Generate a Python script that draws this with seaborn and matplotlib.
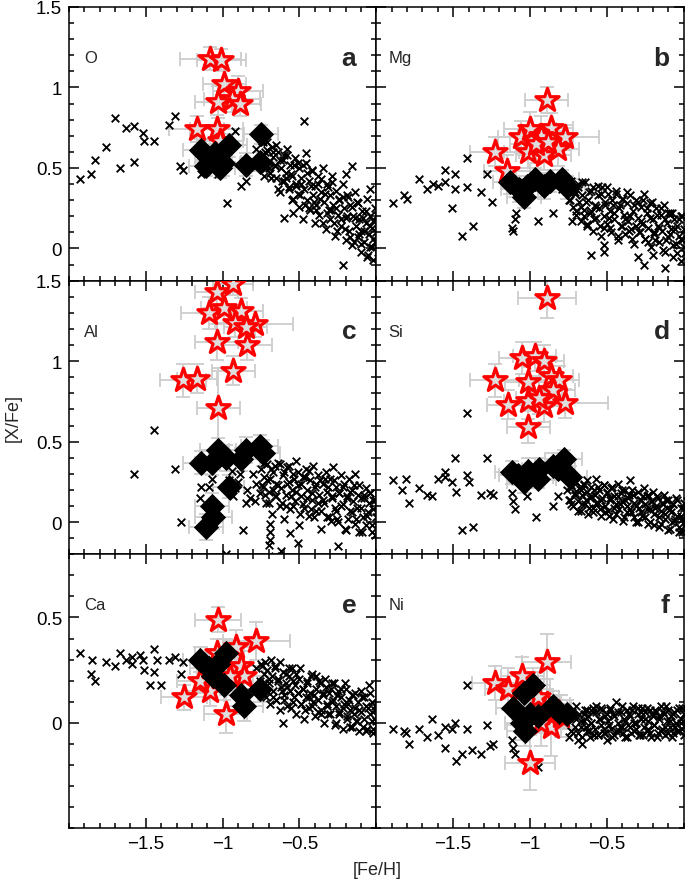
import numpy as np
import matplotlib
matplotlib.use("Agg")
import matplotlib.pyplot as plt
import seaborn as sns
from matplotlib.ticker import MultipleLocator, FixedLocator, FuncFormatter

# -------------------- data --------------------
elements = ["O", "Mg", "Al", "Si", "Ca", "Ni"]
panel_letters = ["a", "b", "c", "d", "e", "f"]

# red open stars (this work) + their errors
O_star_x = [-1.08, -1.01, -0.99, -0.90, -0.94, -1.03, -0.89, -1.17, -1.04, -1.02]
O_star_y = [1.18, 1.17, 1.02, 0.98, 0.93, 0.91, 0.90, 0.74, 0.74, 0.67]
O_star_xerr = [0.20, 0.16, 0.14, 0.16, 0.18, 0.15, 0.14, 0.18, 0.17, 0.15]
O_star_yerr = [0.07, 0.07, 0.09, 0.09, 0.08, 0.10, 0.08, 0.08, 0.09, 0.08]

Mg_star_x = [-0.89, -1.23, -1.06, -1.00, -0.86, -0.77, -0.93, -1.01, -0.91, -0.82, -1.15, -0.96, -0.88]
Mg_star_y = [0.92, 0.60, 0.69, 0.74, 0.75, 0.69, 0.70, 0.60, 0.58, 0.62, 0.48, 0.65, 0.66]
Mg_star_xerr = [0.14, 0.16, 0.15, 0.17, 0.14, 0.22, 0.15, 0.16, 0.18, 0.14, 0.15, 0.17, 0.16]
Mg_star_yerr = [0.08, 0.09, 0.10, 0.11, 0.09, 0.08, 0.12, 0.10, 0.09, 0.11, 0.10, 0.12, 0.09]

Al_star_x = [-1.04, -0.93, -1.09, -0.99, -0.88, -0.92, -0.79, -0.85, -0.84, -1.04, -0.93, -1.26, -1.17, -1.03]
Al_star_y = [1.43, 1.48, 1.30, 1.33, 1.31, 1.24, 1.23, 1.21, 1.10, 1.12, 0.94, 0.88, 0.89, 0.71]
Al_star_xerr = [0.14, 0.13, 0.18, 0.15, 0.14, 0.13, 0.25, 0.14, 0.16, 0.14, 0.14, 0.15, 0.13, 0.14]
Al_star_yerr = [0.08, 0.07, 0.10, 0.09, 0.08, 0.09, 0.08, 0.10, 0.09, 0.11, 0.09, 0.10, 0.09, 0.25]

Si_star_x = [-0.89, -1.05, -0.97, -0.91, -1.23, -1.01, -0.86, -0.81, -0.85, -1.14, -1.01, -0.91, -0.77, -1.01, -0.94]
Si_star_y = [1.39, 1.02, 1.03, 1.00, 0.88, 0.87, 0.91, 0.88, 0.82, 0.73, 0.75, 0.72, 0.74, 0.59, 0.77]
Si_star_xerr = [0.19, 0.15, 0.14, 0.13, 0.16, 0.15, 0.14, 0.13, 0.14, 0.14, 0.16, 0.14, 0.28, 0.14, 0.15]
Si_star_yerr = [0.12, 0.10, 0.09, 0.10, 0.10, 0.11, 0.10, 0.09, 0.10, 0.09, 0.11, 0.10, 0.09, 0.10, 0.10]

Ca_star_x = [-1.03, -0.78, -1.25, -1.08, -0.98, -1.04, -0.91, -1.15, -0.88, -0.86, -0.95]
Ca_star_y = [0.49, 0.39, 0.12, 0.15, 0.04, 0.33, 0.36, 0.20, 0.27, 0.22, 0.22]
Ca_star_xerr = [0.15, 0.22, 0.15, 0.16, 0.14, 0.14, 0.13, 0.15, 0.14, 0.16, 0.15]
Ca_star_yerr = [0.06, 0.09, 0.06, 0.07, 0.09, 0.07, 0.08, 0.06, 0.07, 0.07, 0.06]

Ni_star_x = [-0.89, -1.23, -1.05, -1.14, -1.00, -0.89, -0.86, -0.93, -0.80, -0.95]
Ni_star_y = [0.29, 0.19, 0.22, 0.16, -0.19, 0.09, -0.02, 0.00, 0.03, 0.12]
Ni_star_xerr = [0.16, 0.15, 0.14, 0.15, 0.16, 0.15, 0.14, 0.16, 0.15, 0.14]
Ni_star_yerr = [0.13, 0.08, 0.09, 0.10, 0.13, 0.12, 0.14, 0.11, 0.10, 0.12]

# black filled diamonds + their errors
O_dia_x = [-1.14, -1.11, -1.06, -1.05, -1.00, -0.96, -1.02, -0.85, -0.76, -0.75]
O_dia_y = [0.61, 0.51, 0.55, 0.59, 0.53, 0.64, 0.50, 0.52, 0.54, 0.71]
O_dia_xerr = [0.12, 0.11, 0.12, 0.10, 0.11, 0.12, 0.10, 0.11, 0.12, 0.11]
O_dia_yerr = [0.07, 0.06, 0.07, 0.06, 0.08, 0.07, 0.06, 0.07, 0.06, 0.06]

Mg_dia_x = [-1.13, -1.07, -1.04, -1.02, -0.97, -0.91, -0.87, -0.79, -0.76]
Mg_dia_y = [0.41, 0.37, 0.32, 0.39, 0.43, 0.39, 0.42, 0.43, 0.38]
Mg_dia_xerr = [0.11, 0.12, 0.11, 0.10, 0.12, 0.11, 0.12, 0.11, 0.12]
Mg_dia_yerr = [0.07, 0.08, 0.07, 0.06, 0.07, 0.08, 0.07, 0.06, 0.07]

Al_dia_x = [-1.14, -1.07, -1.03, -0.98, -0.88, -0.85, -0.76, -0.74, -0.96, -1.07, -1.06, -1.11]
Al_dia_y = [0.37, 0.37, 0.45, 0.40, 0.39, 0.45, 0.47, 0.43, 0.22, 0.10, 0.03, -0.03]
Al_dia_xerr = [0.12, 0.11, 0.12, 0.11, 0.12, 0.11, 0.12, 0.11, 0.10, 0.11, 0.12, 0.11]
Al_dia_yerr = [0.07, 0.08, 0.07, 0.08, 0.07, 0.08, 0.07, 0.08, 0.07, 0.08, 0.07, 0.08]

Si_dia_x = [-1.12, -1.08, -1.04, -1.01, -0.95, -0.94, -0.85, -0.82, -0.78, -0.74]
Si_dia_y = [0.31, 0.29, 0.25, 0.32, 0.27, 0.33, 0.35, 0.33, 0.39, 0.28]
Si_dia_xerr = [0.11, 0.12, 0.11, 0.10, 0.12, 0.11, 0.12, 0.11, 0.12, 0.11]
Si_dia_yerr = [0.07, 0.06, 0.07, 0.08, 0.06, 0.07, 0.08, 0.07, 0.06, 0.07]

Ca_dia_x = [-1.15, -1.09, -1.03, -0.98, -1.06, -0.99, -0.88, -0.86, -0.76]
Ca_dia_y = [0.30, 0.26, 0.28, 0.33, 0.22, 0.18, 0.13, 0.08, 0.16]
Ca_dia_xerr = [0.11, 0.12, 0.11, 0.12, 0.11, 0.12, 0.11, 0.12, 0.11]
Ca_dia_yerr = [0.06, 0.07, 0.06, 0.07, 0.06, 0.07, 0.06, 0.07, 0.06]

Ni_dia_x = [-0.98, -1.04, -1.11, -1.00, -1.05, -1.03, -0.95, -0.85, -0.81, -0.76]
Ni_dia_y = [0.18, 0.14, 0.07, 0.04, 0.00, -0.04, 0.03, 0.08, 0.05, 0.04]
Ni_dia_xerr = [0.11, 0.12, 0.11, 0.12, 0.11, 0.12, 0.11, 0.12, 0.11, 0.12]
Ni_dia_yerr = [0.08, 0.07, 0.08, 0.07, 0.08, 0.07, 0.08, 0.07, 0.08, 0.07]

# field stars (black x), read point by point
O_field = [
    (-1.93, 0.43), (-1.86, 0.46), (-1.83, 0.55), (-1.76, 0.63), (-1.70, 0.81), (-1.67, 0.50), (-1.63, 0.75),
    (-1.58, 0.76), (-1.58, 0.54), (-1.52, 0.72), (-1.51, 0.67), (-1.45, 0.67), (-1.35, 0.77), (-1.31, 0.82),
    (-1.28, 0.51), (-1.26, 0.49), (-1.14, 0.46), (-1.03, 0.46), (-0.97, 0.28), (-0.92, 0.73), (-0.88, 0.39),
    (-0.85, 0.42), (-0.47, 0.79), (-0.46, 0.59), (-0.22, -0.10), (-0.16, 0.51), (-0.20, 0.46), (-0.04, 0.37),
    (-0.78, 0.62), (-0.76, 0.55), (-0.74, 0.66), (-0.73, 0.58), (-0.72, 0.50), (-0.71, 0.61), (-0.70, 0.54),
    (-0.69, 0.47), (-0.68, 0.63), (-0.67, 0.57), (-0.66, 0.52), (-0.65, 0.44), (-0.64, 0.60), (-0.63, 0.35),
    (-0.62, 0.50), (-0.61, 0.55), (-0.60, 0.19), (-0.60, 0.42), (-0.59, 0.47), (-0.58, 0.58), (-0.57, 0.38),
    (-0.56, 0.52), (-0.55, 0.30), (-0.55, 0.45), (-0.54, 0.22), (-0.53, 0.56), (-0.52, 0.40), (-0.51, 0.34),
    (-0.50, 0.50), (-0.50, 0.26), (-0.49, 0.44), (-0.48, 0.18), (-0.47, 0.37), (-0.46, 0.53), (-0.45, 0.30),
    (-0.44, 0.42), (-0.43, 0.24), (-0.42, 0.48), (-0.41, 0.33), (-0.40, 0.16), (-0.40, 0.39), (-0.39, 0.27),
    (-0.38, 0.45), (-0.37, 0.21), (-0.36, 0.35), (-0.35, 0.50), (-0.34, 0.29), (-0.33, 0.12), (-0.32, 0.40),
    (-0.31, 0.24), (-0.30, 0.33), (-0.30, 0.18), (-0.29, 0.45), (-0.28, 0.27), (-0.27, 0.08), (-0.26, 0.36),
    (-0.25, 0.21), (-0.24, 0.30), (-0.23, 0.14), (-0.22, 0.40), (-0.21, 0.25), (-0.20, 0.05), (-0.20, 0.19),
    (-0.19, 0.33), (-0.18, 0.11), (-0.17, 0.27), (-0.16, 0.02), (-0.15, 0.20), (-0.14, 0.35), (-0.13, 0.14),
    (-0.12, 0.07), (-0.12, 0.28), (-0.11, 0.18), (-0.10, -0.02), (-0.10, 0.11), (-0.09, 0.23), (-0.08, 0.04),
    (-0.07, 0.16), (-0.06, -0.05), (-0.06, 0.31), (-0.05, 0.09), (-0.04, 0.20), (-0.04, 0.01), (-0.03, 0.13),
    (-0.02, -0.07), (-0.02, 0.06), (-0.01, 0.25), (0.00, 0.10), (0.01, -0.02), (0.02, 0.15),
]
Mg_field = [
    (-1.89, 0.28), (-1.82, 0.33), (-1.80, 0.31), (-1.72, 0.43), (-1.67, 0.37), (-1.63, 0.40), (-1.60, 0.39),
    (-1.55, 0.49), (-1.55, 0.41), (-1.49, 0.46), (-1.49, 0.37), (-1.51, 0.25), (-1.44, 0.08), (-1.41, 0.56),
    (-1.41, 0.38), (-1.37, 0.14), (-1.32, 0.35), (-1.28, 0.46), (-1.25, 0.29), (-1.12, 0.13), (-1.11, 0.11),
    (-1.10, 0.18), (-1.09, 0.22), (-0.95, 0.17), (-0.85, 0.22), (-0.60, -0.04), (-0.52, 0.02), (-0.52, -0.02),
    (-0.30, -0.05), (-0.26, -0.10), (-0.20, -0.04), (-0.12, -0.12),
    (-0.79, 0.37), (-0.77, 0.40), (-0.76, 0.36), (-0.74, 0.30), (-0.73, 0.40), (-0.72, 0.26), (-0.71, 0.34),
    (-0.70, 0.21), (-0.69, 0.38), (-0.68, 0.29), (-0.67, 0.17), (-0.66, 0.33), (-0.65, 0.24), (-0.64, 0.41),
    (-0.63, 0.14), (-0.62, 0.30), (-0.61, 0.22), (-0.60, 0.36), (-0.59, 0.11), (-0.58, 0.27), (-0.57, 0.19),
    (-0.56, 0.33), (-0.55, 0.25), (-0.54, 0.08), (-0.53, 0.38), (-0.52, 0.20), (-0.51, 0.29), (-0.50, 0.15),
    (-0.49, 0.34), (-0.48, 0.23), (-0.47, 0.10), (-0.46, 0.27), (-0.45, 0.18), (-0.44, 0.36), (-0.43, 0.05),
    (-0.42, 0.25), (-0.41, 0.14), (-0.40, 0.31), (-0.39, 0.21), (-0.38, 0.09), (-0.37, 0.28), (-0.36, 0.17),
    (-0.35, 0.33), (-0.34, 0.12), (-0.33, 0.23), (-0.32, 0.03), (-0.31, 0.30), (-0.30, 0.19), (-0.29, 0.10),
    (-0.28, 0.26), (-0.27, 0.15), (-0.26, 0.34), (-0.25, 0.06), (-0.24, 0.22), (-0.23, 0.13), (-0.22, 0.28),
    (-0.21, 0.01), (-0.20, 0.18), (-0.19, 0.09), (-0.18, 0.25), (-0.17, 0.14), (-0.16, 0.04), (-0.15, 0.21),
    (-0.14, 0.11), (-0.13, 0.27), (-0.12, -0.02), (-0.11, 0.16), (-0.10, 0.07), (-0.09, 0.22), (-0.08, 0.12),
    (-0.07, -0.05), (-0.06, 0.18), (-0.05, 0.03), (-0.04, 0.14), (-0.03, 0.08), (-0.02, -0.08), (-0.02, 0.20),
    (-0.01, 0.05), (0.00, 0.12), (0.01, -0.03), (0.02, 0.09), (0.03, 0.16),
]
Al_field = [
    (-1.58, 0.30), (-1.45, 0.57), (-1.31, 0.33), (-1.27, 0.00), (-1.15, 0.15), (-1.14, 0.22), (-1.07, 0.27),
    (-1.09, 0.22), (-0.98, -0.20), (-0.94, 0.32), (-0.93, 0.16), (-0.92, 0.21), (-0.89, 0.30), (-0.87, -0.05),
    (-0.85, 0.12), (-0.84, 0.20), (-0.82, 0.15), (-0.69, -0.01), (-0.69, -0.06), (-0.69, -0.11), (-0.62, -0.18),
    (-0.56, -0.07), (-0.51, -0.13), (-0.25, -0.15), (-0.96, 0.26), (-0.90, 0.25), (-0.80, 0.30), (-0.78, 0.24),
    (-0.76, 0.18), (-0.79, 0.13), (-0.66, -0.21), (-0.70, -0.14),
    (-0.75, 0.33), (-0.74, 0.22), (-0.73, 0.28), (-0.72, 0.12), (-0.71, 0.36), (-0.70, 0.19), (-0.69, 0.27),
    (-0.68, 0.05), (-0.67, 0.31), (-0.66, 0.16), (-0.65, 0.24), (-0.64, 0.37), (-0.63, 0.10), (-0.62, 0.21),
    (-0.61, 0.29), (-0.60, 0.02), (-0.59, 0.17), (-0.58, 0.34), (-0.57, 0.25), (-0.56, 0.08), (-0.55, 0.20),
    (-0.54, 0.30), (-0.53, 0.13), (-0.52, 0.38), (-0.51, 0.23), (-0.50, -0.02), (-0.49, 0.16), (-0.48, 0.28),
    (-0.47, 0.09), (-0.46, 0.33), (-0.45, 0.20), (-0.44, 0.04), (-0.43, 0.26), (-0.42, 0.14), (-0.41, 0.35),
    (-0.40, 0.22), (-0.39, 0.07), (-0.38, 0.29), (-0.37, 0.17), (-0.36, -0.04), (-0.35, 0.24), (-0.34, 0.12),
    (-0.33, 0.31), (-0.32, 0.19), (-0.31, 0.03), (-0.30, 0.27), (-0.29, 0.15), (-0.28, 0.34), (-0.27, 0.09),
    (-0.26, 0.22), (-0.25, 0.00), (-0.24, 0.18), (-0.23, 0.29), (-0.22, 0.11), (-0.21, 0.24), (-0.20, -0.05),
    (-0.19, 0.16), (-0.18, 0.27), (-0.17, 0.07), (-0.16, 0.20), (-0.15, 0.13), (-0.14, 0.30), (-0.13, 0.02),
    (-0.12, 0.17), (-0.11, 0.23), (-0.10, 0.09), (-0.09, -0.06), (-0.08, 0.15), (-0.07, 0.21), (-0.06, 0.04),
    (-0.05, 0.12), (-0.04, 0.18), (-0.03, -0.02), (-0.02, 0.08), (-0.01, 0.14), (0.00, 0.03), (0.01, 0.10),
    (0.02, -0.04), (0.02, 0.16), (0.03, 0.06),
]
Si_field = [
    (-1.89, 0.26), (-1.83, 0.20), (-1.81, 0.27), (-1.79, 0.12), (-1.72, 0.21), (-1.67, 0.17), (-1.64, 0.16),
    (-1.60, 0.27), (-1.55, 0.31), (-1.55, 0.28), (-1.51, 0.25), (-1.49, 0.40), (-1.48, 0.19), (-1.44, -0.05),
    (-1.41, 0.68), (-1.41, 0.29), (-1.40, 0.25), (-1.37, -0.03), (-1.32, 0.17), (-1.28, 0.40), (-1.26, 0.18),
    (-1.24, 0.17), (-1.12, 0.18), (-1.11, 0.13), (-1.10, 0.08), (-1.02, 0.16), (-0.96, 0.03), (-0.85, 0.10),
    (-0.82, 0.16),
    (-0.76, 0.20), (-0.74, 0.14), (-0.73, 0.23), (-0.72, 0.10), (-0.71, 0.18), (-0.70, 0.25), (-0.69, 0.13),
    (-0.68, 0.21), (-0.67, 0.07), (-0.66, 0.17), (-0.65, 0.24), (-0.64, 0.11), (-0.63, 0.19), (-0.62, 0.05),
    (-0.61, 0.15), (-0.60, 0.22), (-0.59, 0.09), (-0.58, 0.17), (-0.57, 0.27), (-0.56, 0.12), (-0.55, 0.20),
    (-0.54, 0.04), (-0.53, 0.15), (-0.52, 0.23), (-0.51, 0.10), (-0.50, 0.18), (-0.49, 0.07), (-0.48, 0.14),
    (-0.47, 0.21), (-0.46, 0.02), (-0.45, 0.16), (-0.44, 0.11), (-0.43, 0.24), (-0.42, 0.08), (-0.41, 0.18),
    (-0.40, 0.13), (-0.39, 0.03), (-0.38, 0.20), (-0.37, 0.10), (-0.36, 0.15), (-0.35, 0.26), (-0.34, 0.06),
    (-0.33, 0.17), (-0.32, 0.12), (-0.31, 0.00), (-0.30, 0.19), (-0.29, 0.09), (-0.28, 0.14), (-0.27, 0.04),
    (-0.26, 0.21), (-0.25, 0.11), (-0.24, 0.16), (-0.23, -0.01), (-0.22, 0.08), (-0.21, 0.13), (-0.20, 0.19),
    (-0.19, 0.05), (-0.18, 0.10), (-0.17, 0.15), (-0.16, -0.03), (-0.15, 0.07), (-0.14, 0.12), (-0.13, 0.17),
    (-0.12, 0.02), (-0.11, 0.09), (-0.10, 0.14), (-0.09, -0.04), (-0.08, 0.06), (-0.07, 0.11), (-0.06, 0.01),
    (-0.05, 0.15), (-0.04, 0.04), (-0.03, -0.06), (-0.02, 0.09), (-0.01, 0.02), (0.00, 0.12), (0.01, -0.02),
    (0.02, 0.06), (0.02, 0.13), (0.03, 0.00),
]
Ca_field = [
    (-1.93, 0.33), (-1.85, 0.30), (-1.86, 0.23), (-1.83, 0.20), (-1.76, 0.29), (-1.70, 0.27), (-1.67, 0.33),
    (-1.63, 0.30), (-1.59, 0.31), (-1.59, 0.28), (-1.54, 0.32), (-1.52, 0.30), (-1.51, 0.25), (-1.47, 0.18),
    (-1.45, 0.35), (-1.43, 0.30), (-1.45, 0.24), (-1.40, 0.18), (-1.35, 0.30), (-1.31, 0.31), (-1.26, 0.29),
    (-1.27, 0.23), (-0.61, 0.00),
    (-0.78, 0.26), (-0.76, 0.20), (-0.75, 0.28), (-0.74, 0.17), (-0.73, 0.23), (-0.72, 0.12), (-0.71, 0.25),
    (-0.70, 0.19), (-0.69, 0.09), (-0.68, 0.22), (-0.67, 0.15), (-0.66, 0.27), (-0.65, 0.11), (-0.64, 0.20),
    (-0.63, 0.06), (-0.62, 0.17), (-0.61, 0.24), (-0.60, 0.13), (-0.59, 0.19), (-0.58, 0.08), (-0.57, 0.22),
    (-0.56, 0.15), (-0.55, 0.26), (-0.54, 0.10), (-0.53, 0.18), (-0.52, 0.04), (-0.51, 0.14), (-0.50, 0.21),
    (-0.49, 0.09), (-0.48, 0.16), (-0.47, 0.02), (-0.46, 0.12), (-0.45, 0.19), (-0.44, 0.07), (-0.43, 0.14),
    (-0.42, 0.23), (-0.41, 0.10), (-0.40, 0.03), (-0.39, 0.16), (-0.38, 0.11), (-0.37, 0.20), (-0.36, 0.06),
    (-0.35, 0.13), (-0.34, 0.00), (-0.33, 0.17), (-0.32, 0.09), (-0.31, 0.14), (-0.30, 0.04), (-0.29, 0.19),
    (-0.28, 0.11), (-0.27, -0.01), (-0.26, 0.08), (-0.25, 0.15), (-0.24, 0.05), (-0.23, 0.12), (-0.22, -0.03),
    (-0.21, 0.09), (-0.20, 0.16), (-0.19, 0.03), (-0.18, 0.11), (-0.17, 0.06), (-0.16, -0.02), (-0.15, 0.13),
    (-0.14, 0.07), (-0.13, 0.01), (-0.12, 0.10), (-0.11, -0.04), (-0.10, 0.05), (-0.09, 0.12), (-0.08, 0.02),
    (-0.07, 0.08), (-0.06, -0.03), (-0.05, 0.18), (-0.04, 0.04), (-0.03, 0.10), (-0.02, -0.05), (-0.01, 0.06),
    (0.00, 0.01), (0.01, 0.09), (0.02, 0.03),
]
Ni_field = [
    (-1.89, -0.03), (-1.82, -0.04), (-1.81, -0.05), (-1.79, -0.10), (-1.72, -0.03), (-1.67, -0.07), (-1.64, 0.02),
    (-1.60, -0.06), (-1.55, -0.02), (-1.55, -0.12), (-1.51, -0.03), (-1.49, 0.00), (-1.48, -0.18), (-1.44, -0.15),
    (-1.41, 0.18), (-1.41, -0.03), (-1.38, -0.13), (-1.32, -0.15), (-1.28, -0.01), (-1.26, -0.11), (-1.24, -0.10),
    (-1.12, -0.08), (-1.11, -0.12), (-1.10, -0.15), (-0.95, -0.21),
    (-0.72, -0.05), (-0.70, 0.02), (-0.69, -0.08), (-0.68, 0.04), (-0.67, -0.02), (-0.66, -0.10), (-0.65, 0.01),
    (-0.64, 0.06), (-0.63, -0.04), (-0.62, 0.03), (-0.61, -0.07), (-0.60, 0.00), (-0.59, 0.05), (-0.58, -0.03),
    (-0.57, 0.08), (-0.56, -0.06), (-0.55, 0.02), (-0.54, -0.01), (-0.53, 0.06), (-0.52, -0.05), (-0.51, 0.03),
    (-0.50, -0.08), (-0.49, 0.01), (-0.48, 0.07), (-0.47, -0.03), (-0.46, 0.04), (-0.45, -0.06), (-0.44, 0.10),
    (-0.43, 0.00), (-0.42, -0.04), (-0.41, 0.05), (-0.40, -0.02), (-0.39, 0.02), (-0.38, -0.07), (-0.37, 0.06),
    (-0.36, -0.01), (-0.35, 0.03), (-0.34, -0.05), (-0.33, 0.08), (-0.32, 0.00), (-0.31, -0.03), (-0.30, 0.04),
    (-0.29, -0.06), (-0.28, 0.02), (-0.27, 0.07), (-0.26, -0.02), (-0.25, 0.05), (-0.24, -0.04), (-0.23, 0.01),
    (-0.22, 0.06), (-0.21, -0.07), (-0.20, 0.03), (-0.19, -0.01), (-0.18, 0.05), (-0.17, -0.05), (-0.16, 0.02),
    (-0.15, 0.08), (-0.14, -0.03), (-0.13, 0.04), (-0.12, -0.06), (-0.11, 0.01), (-0.10, 0.06), (-0.09, -0.02),
    (-0.08, 0.03), (-0.07, -0.05), (-0.06, 0.05), (-0.05, 0.00), (-0.04, -0.04), (-0.03, 0.07), (-0.02, 0.02),
    (-0.01, -0.03), (0.00, 0.04), (0.01, -0.01), (0.02, 0.05), (0.03, -0.02),
]

# second pass over the crowded metal-rich end: shared [Fe/H] column, one [X/Fe] column per element
dense_feh = [
    -0.745, -0.733, -0.724, -0.709, -0.698, -0.687, -0.671, -0.662, -0.651, -0.638, -0.626, -0.617,
    -0.603, -0.591, -0.582, -0.569, -0.557, -0.545, -0.536, -0.521, -0.512, -0.498, -0.487, -0.476,
    -0.463, -0.452, -0.441, -0.428, -0.417, -0.404, -0.393, -0.382, -0.369, -0.357, -0.346, -0.334,
    -0.322, -0.313, -0.298, -0.287, -0.276, -0.264, -0.253, -0.241, -0.229, -0.218, -0.206, -0.193,
    -0.184, -0.171, -0.158, -0.147, -0.136, -0.124, -0.113, -0.101, -0.089, -0.078, -0.066, -0.054,
    -0.043, -0.031, -0.019, -0.008, 0.004, 0.015,
]
O_dense = [
    0.67, 0.45, 0.60, 0.66, 0.50, 0.44, 0.60, 0.51, 0.64, 0.37, 0.55, 0.42,
    0.58, 0.44, 0.62, 0.37, 0.46, 0.31, 0.52, 0.39, 0.53, 0.33, 0.40, 0.52,
    0.27, 0.47, 0.25, 0.39, 0.49, 0.29, 0.24, 0.40, 0.31, 0.43, 0.16, 0.34,
    0.22, 0.38, 0.24, 0.41, 0.16, 0.25, 0.11, 0.31, 0.18, 0.32, 0.12, 0.20,
    0.32, 0.07, 0.26, 0.04, 0.19, 0.29, 0.09, 0.03, 0.19, 0.11, 0.23, -0.04,
    0.14, 0.01, 0.17, 0.04, 0.21, -0.04,
]
Mg_dense = [
    0.30, 0.42, 0.17, 0.35, 0.23, 0.40, 0.26, 0.41, 0.20, 0.29, 0.15, 0.35,
    0.23, 0.38, 0.18, 0.26, 0.39, 0.14, 0.34, 0.13, 0.27, 0.38, 0.19, 0.13,
    0.30, 0.22, 0.34, 0.08, 0.27, 0.14, 0.31, 0.18, 0.35, 0.11, 0.20, 0.06,
    0.27, 0.14, 0.29, 0.10, 0.17, 0.30, 0.06, 0.25, 0.04, 0.19, 0.29, 0.10,
    0.05, 0.21, 0.13, 0.25, -0.01, 0.18, 0.05, 0.22, 0.09, 0.22, 0.02, 0.12,
    -0.03, 0.18, 0.06, 0.20, 0.01, 0.09,
]
Al_dense = [
    0.23, 0.37, 0.17, 0.26, 0.12, 0.33, 0.20, 0.35, 0.16, 0.23, 0.36, 0.12,
    0.31, 0.10, 0.24, 0.35, 0.16, 0.10, 0.27, 0.19, 0.31, 0.05, 0.24, 0.11,
    0.28, 0.15, 0.32, 0.08, 0.18, 0.03, 0.24, 0.12, 0.26, 0.07, 0.14, 0.27,
    0.03, 0.22, 0.01, 0.16, 0.26, 0.07, 0.02, 0.18, 0.10, 0.22, -0.04, 0.15,
    0.02, 0.19, 0.06, 0.23, -0.01, 0.09, -0.06, 0.15, 0.03, 0.17, -0.02, 0.06,
    0.18, -0.06, 0.14, -0.08, 0.07, 0.18,
]
Si_dense = [
    0.14, 0.11, 0.22, 0.17, 0.25, 0.07, 0.20, 0.11, 0.23, 0.14, 0.26, 0.09,
    0.16, 0.06, 0.20, 0.12, 0.22, 0.08, 0.14, 0.23, 0.06, 0.19, 0.04, 0.15,
    0.22, 0.09, 0.05, 0.16, 0.11, 0.20, 0.01, 0.14, 0.06, 0.17, 0.08, 0.20,
    0.03, 0.10, 0.00, 0.14, 0.06, 0.16, 0.03, 0.08, 0.17, 0.00, 0.13, -0.02,
    0.09, 0.16, 0.03, -0.01, 0.11, 0.05, 0.14, -0.05, 0.08, 0.00, 0.11, 0.02,
    0.14, -0.03, 0.04, -0.06, 0.09, 0.00,
]
Ca_dense = [
    0.27, 0.19, 0.29, 0.15, 0.21, 0.30, 0.12, 0.26, 0.11, 0.21, 0.29, 0.15,
    0.11, 0.23, 0.17, 0.26, 0.07, 0.20, 0.12, 0.23, 0.14, 0.26, 0.09, 0.16,
    0.06, 0.20, 0.12, 0.22, 0.08, 0.13, 0.22, 0.05, 0.19, 0.04, 0.14, 0.21,
    0.08, 0.04, 0.16, 0.10, 0.19, 0.00, 0.13, 0.04, 0.16, 0.07, 0.19, 0.02,
    0.09, -0.02, 0.13, 0.04, 0.14, 0.01, 0.06, 0.15, -0.02, 0.12, -0.04, 0.07,
    0.14, 0.01, -0.03, 0.08, 0.03, 0.11,
]
Ni_dense = [
    -0.07, -0.04, 0.05, -0.02, 0.08, -0.05, 0.01, -0.07, 0.04, -0.02, 0.06, -0.04,
    0.00, 0.07, -0.06, 0.05, -0.06, 0.02, 0.07, -0.03, -0.05, 0.04, -0.01, 0.06,
    -0.07, 0.03, -0.04, 0.05, -0.02, 0.08, -0.05, 0.01, -0.07, 0.04, -0.02, 0.06,
    -0.04, 0.00, 0.07, -0.06, 0.05, -0.06, 0.02, 0.07, -0.03, -0.05, 0.04, -0.01,
    0.06, -0.07, 0.03, -0.04, 0.05, -0.02, 0.08, -0.05, 0.01, -0.07, 0.04, -0.02,
    0.06, -0.04, 0.00, 0.07, -0.06, 0.05,
]

star_x = [O_star_x, Mg_star_x, Al_star_x, Si_star_x, Ca_star_x, Ni_star_x]
star_y = [O_star_y, Mg_star_y, Al_star_y, Si_star_y, Ca_star_y, Ni_star_y]
star_xerr = [O_star_xerr, Mg_star_xerr, Al_star_xerr, Si_star_xerr, Ca_star_xerr, Ni_star_xerr]
star_yerr = [O_star_yerr, Mg_star_yerr, Al_star_yerr, Si_star_yerr, Ca_star_yerr, Ni_star_yerr]
dia_x = [O_dia_x, Mg_dia_x, Al_dia_x, Si_dia_x, Ca_dia_x, Ni_dia_x]
dia_y = [O_dia_y, Mg_dia_y, Al_dia_y, Si_dia_y, Ca_dia_y, Ni_dia_y]
dia_xerr = [O_dia_xerr, Mg_dia_xerr, Al_dia_xerr, Si_dia_xerr, Ca_dia_xerr, Ni_dia_xerr]
dia_yerr = [O_dia_yerr, Mg_dia_yerr, Al_dia_yerr, Si_dia_yerr, Ca_dia_yerr, Ni_dia_yerr]
fields = [O_field, Mg_field, Al_field, Si_field, Ca_field, Ni_field]
denses = [O_dense, Mg_dense, Al_dense, Si_dense, Ca_dense, Ni_dense]

# -------------------- style --------------------
sns.set_style("ticks")
plt.rcParams['font.family'] = ['Liberation Sans', 'DejaVu Sans']
plt.rcParams['axes.linewidth'] = 1.1

ERR_GREY = "#cdcdcd"

fig, axes = plt.subplots(3, 2, figsize=(6.85, 8.87), dpi=100)
fig.subplots_adjust(left=69 / 685, right=0.998, top=1 - 8 / 887, bottom=1 - 829 / 887,
                    hspace=0, wspace=0)

ylims = [(-0.2, 1.5), (-0.2, 1.5), (-0.5, 0.8)]
ymajor = [[0, 0.5, 1, 1.5], [0, 0.5, 1, 1.5], [0, 0.5]]

fmt = FuncFormatter(lambda v, p: "%g" % v if v != 0 else "0")
minus_fmt = FuncFormatter(lambda v, p: ("%g" % v).replace("-", "\u2212"))

for i, ax in enumerate(axes.flat):
    row, col = divmod(i, 2)

    # grey error bars behind everything
    ax.errorbar(dia_x[i], dia_y[i], xerr=dia_xerr[i], yerr=dia_yerr[i], fmt="none",
                ecolor=ERR_GREY, elinewidth=1.3, capsize=5, capthick=1.3, zorder=1)
    ax.errorbar(star_x[i], star_y[i], xerr=star_xerr[i], yerr=star_yerr[i], fmt="none",
                ecolor=ERR_GREY, elinewidth=1.3, capsize=5, capthick=1.3, zorder=1)

    fx = [p[0] for p in fields[i]] + dense_feh
    fy = [p[1] for p in fields[i]] + denses[i]
    sns.scatterplot(x=fx, y=fy, ax=ax, marker="x", s=30, color="black", linewidth=1.35,
                    zorder=2, clip_on=False, legend=False)
    sns.scatterplot(x=star_x[i], y=star_y[i], ax=ax, marker="*", s=310, color="#dedede",
                    edgecolor="red", linewidth=2.3, zorder=3, legend=False)
    sns.scatterplot(x=dia_x[i], y=dia_y[i], ax=ax, marker="D", s=165, color="black",
                    edgecolor="black", linewidth=0, zorder=4, legend=False)

    ax.set_xlim(-2, 0)
    ax.set_ylim(*ylims[row])
    ax.xaxis.set_major_locator(FixedLocator([-1.5, -1, -0.5]))
    ax.xaxis.set_minor_locator(MultipleLocator(0.1))
    ax.yaxis.set_major_locator(FixedLocator(ymajor[row]))
    ax.yaxis.set_minor_locator(MultipleLocator(0.1))
    ax.xaxis.set_major_formatter(minus_fmt)
    ax.yaxis.set_major_formatter(fmt)
    ax.tick_params(which="both", direction="in", top=True, right=True, labelsize=13.5,
                   width=1.1, colors="black")
    ax.tick_params(which="major", length=7, pad=5)
    ax.tick_params(which="minor", length=3.5)
    if col == 1:
        ax.tick_params(labelleft=False)
    if row < 2:
        ax.tick_params(labelbottom=False)
    for sp in ax.spines.values():
        sp.set_color("black")

    ax.text(0.05 if col == 0 else 0.04, 0.815, elements[i], transform=ax.transAxes,
            fontsize=12, ha="left", va="center")
    ax.text(0.935 if col == 0 else 0.955, 0.815, panel_letters[i], transform=ax.transAxes,
            fontsize=19, fontweight="bold", ha="right", va="center")
    ax.set_xlabel("")
    ax.set_ylabel("")

fig.text(0.02, 1 - 418 / 887, "[X/Fe]", rotation=90, fontsize=13, ha="center", va="center")
fig.text(0.55, 0.019, "[Fe/H]", fontsize=13, ha="center", va="center")

fig.savefig("out.png", dpi=100)
